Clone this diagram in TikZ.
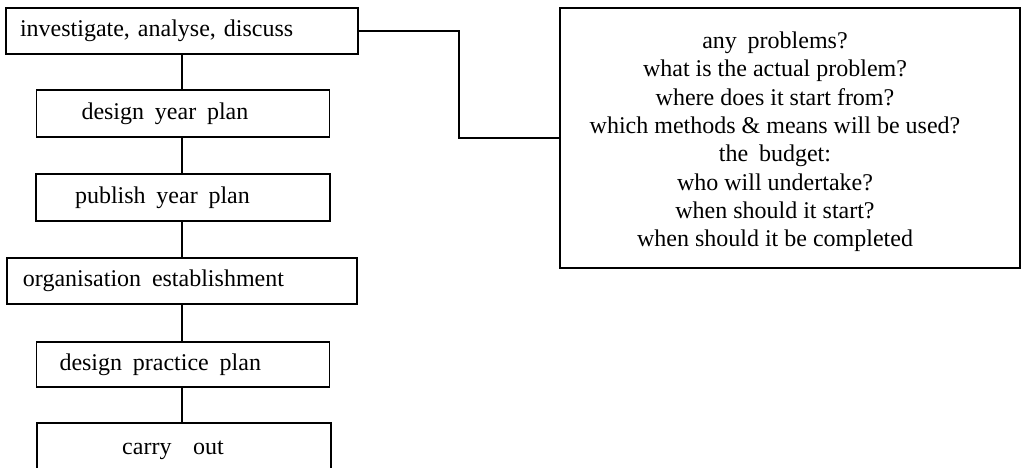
\documentclass[tikz,border=0pt]{standalone}
\usepackage{fontspec}
\setmainfont{Liberation Serif}
\usetikzlibrary{calc}
% wider gap between words, as set in the boxes
\newcommand\wsp{\hspace{0.45em}}
\begin{document}
\begin{tikzpicture}[x=1pt,y=-1pt,
  line width=1.4pt,
  every node/.style={font=\fontsize{24}{28.3}\selectfont},
  stepbox/.style={draw, rectangle, align=left, inner ysep=0pt},
  link/.style={draw}]
\useasboundingbox (0,0) rectangle (1022,468);
\clip (0,0) rectangle (1022,468);

% left column of steps
\node[stepbox, minimum height=46pt, text width=324pt, inner xsep=14pt] (b1) at (182,31)
  {investigate, analyse, discuss};
\node[stepbox, minimum height=47pt, text width=203pt, inner xsep=45pt] (b2) at (183,113.5)
  {design\wsp year\wsp plan};
\node[stepbox, minimum height=47pt, text width=216pt, inner xsep=39pt] (b3) at (183,197.5)
  {publish\wsp year\wsp plan};
\node[stepbox, minimum height=46pt, text width=318pt, inner xsep=16pt] (b4) at (182,281)
  {organisation\wsp establishment};
\node[stepbox, minimum height=45pt, text width=247pt, inner xsep=23pt] (b5) at (183,364.5)
  {design\wsp practice\wsp plan};
\node[stepbox, minimum height=54pt, text width=294pt, inner xsep=0pt, align=center] (b6) at (184,450)
  {\hspace*{-22pt}carry\wsp\wsp out};

% question box on the right
\node[draw, rectangle, minimum width=460pt, minimum height=260pt, align=center, inner sep=0pt] (q) at (790,138)
  {\hspace*{-30pt}\raisebox{-4pt}[\height][\depth]{\begin{tabular}{@{}c@{}}
   any\wsp problems?\\
   what is the actual problem?\\
   where does it start from?\\
   which methods \& means will be used?\\
   the\wsp budget:\\
   who will undertake?\\
   when should it start?\\
   when should it be completed
   \end{tabular}}};

% connectors
\draw[link] (b1.south) -- (b1.south |- b2.north);
\draw[link] (b1.south |- b2.south) -- (b1.south |- b3.north);
\draw[link] (b1.south |- b3.south) -- (b1.south |- b4.north);
\draw[link] (b1.south |- b4.south) -- (b1.south |- b5.north);
\draw[link] (b1.south |- b5.south) -- (b1.south |- b6.north);
\draw[link] (b1.east) -| ($(b1.east)!.5!(q.west)$) |- (q.west);
\end{tikzpicture}
\end{document}
